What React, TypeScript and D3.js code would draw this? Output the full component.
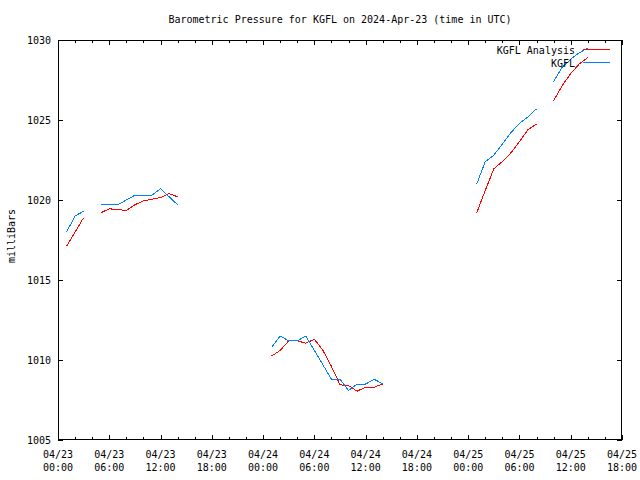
import React from "react";
import * as d3 from "d3";

// hours since 2024-04-23 00:00 UTC
const hours = d3.range(1, 63);

const kgfl: (number | null)[] = [
  1018.0, 1019.0, 1019.3, null,
  1019.7, 1019.7, 1019.7, 1020.0, 1020.3, 1020.3, 1020.3, 1020.7, 1020.2, 1019.7,
  null, null, null, null, null, null, null, null, null, null,
  1010.8, 1011.5, 1011.2, 1011.2, 1011.5, 1010.6, 1009.7, 1008.8, 1008.8, 1008.1, 1008.5, 1008.5, 1008.8, 1008.5,
  null, null, null, null, null, null, null, null, null, null,
  1021.0, 1022.4, 1022.8, 1023.5, 1024.2, 1024.8, 1025.2, 1025.7,
  null,
  1027.4, 1028.3, 1028.8, 1029.2, 1029.5,
];

const kgflAnalysis: (number | null)[] = [
  1017.1, 1018.0, 1018.9, null,
  1019.2, 1019.45, 1019.4, 1019.35, 1019.7, 1019.95, 1020.05, 1020.15, 1020.4, 1020.2,
  null, null, null, null, null, null, null, null, null, null,
  1010.25, 1010.6, 1011.2, 1011.2, 1011.05, 1011.3, 1010.6, 1009.6, 1008.45, 1008.4, 1008.05, 1008.3, 1008.3, 1008.5,
  null, null, null, null, null, null, null, null, null, null,
  1019.2, 1020.6, 1021.95, 1022.4, 1022.95, 1023.65, 1024.4, 1024.75,
  null,
  1026.2, 1027.15, 1027.9, 1028.5, 1028.9,
];

const xTickHours = [0, 6, 12, 18, 24, 30, 36, 42, 48, 54, 60, 66];
const xTickDates = ["04/23", "04/23", "04/23", "04/23", "04/24", "04/24", "04/24", "04/24", "04/25", "04/25", "04/25", "04/25"];
const xTickTimes = ["00:00", "06:00", "12:00", "18:00", "00:00", "06:00", "12:00", "18:00", "00:00", "06:00", "12:00", "18:00"];
const yTicks = [1005, 1010, 1015, 1020, 1025, 1030];

const title = "Barometric Pressure for KGFL on 2024-Apr-23 (time in UTC)";
const yLabel = "milliBars";
const seriesNames = ["KGFL Analysis", "KGFL"];
const seriesColors = ["#ff0000", "#0080ff"];

const W = 640, H = 480;
const L = 58, R = 622, T = 40, B = 440;
const FONT = "'DejaVu Sans Mono', monospace";

export default function App() {
  const x = d3.scaleLinear().domain([0, 66]).range([L, R]);
  const y = d3.scaleLinear().domain([1005, 1030]).range([B, T]);
  const minorHours = d3.range(0, 67, 2).filter((h) => h % 6 !== 0);

  const mkLine = (vals: (number | null)[]) =>
    d3
      .line<number>()
      .defined((_, i) => vals[i] != null)
      .x((h) => x(h))
      .y((_, i) => y(vals[i] as number))(hours) || "";

  const series = [kgflAnalysis, kgfl];

  return (
    <div style={{ position: "absolute", left: 0, top: 0 }}>
      <svg width={W} height={H} style={{ display: "block", background: "#fff" }}>
        <rect x={0} y={0} width={W} height={H} fill="#fff" />
        <text x={(L + R) / 2} y={23} textAnchor="middle" fontFamily={FONT} fontSize={10} fill="#000">
          {title}
        </text>
        {/* y ticks */}
        {yTicks.map((v) => (
          <g key={"y" + v} shapeRendering="crispEdges">
            <line x1={L} x2={L + 5} y1={Math.round(y(v)) + 0.5} y2={Math.round(y(v)) + 0.5} stroke="#000" />
            <line x1={R - 5} x2={R} y1={Math.round(y(v)) + 0.5} y2={Math.round(y(v)) + 0.5} stroke="#000" />
            <text x={51} y={y(v)} dy="0.36em" textAnchor="end" fontFamily={FONT} fontSize={10} fill="#000">
              {v}
            </text>
          </g>
        ))}
        {/* x ticks */}
        {xTickHours.map((h, i) => (
          <g key={"x" + h} shapeRendering="crispEdges">
            <line x1={Math.round(x(h)) + 0.5} x2={Math.round(x(h)) + 0.5} y1={B} y2={B - 5} stroke="#000" />
            <line x1={Math.round(x(h)) + 0.5} x2={Math.round(x(h)) + 0.5} y1={T} y2={T + 5} stroke="#000" />
            <text x={x(h)} y={458} textAnchor="middle" fontFamily={FONT} fontSize={10} fill="#000">
              {xTickDates[i]}
            </text>
            <text x={x(h)} y={471} textAnchor="middle" fontFamily={FONT} fontSize={10} fill="#000">
              {xTickTimes[i]}
            </text>
          </g>
        ))}
        {minorHours.map((h) => (
          <g key={"m" + h} shapeRendering="crispEdges">
            <line x1={Math.round(x(h)) + 0.5} x2={Math.round(x(h)) + 0.5} y1={B} y2={B - 3} stroke="#000" />
            <line x1={Math.round(x(h)) + 0.5} x2={Math.round(x(h)) + 0.5} y1={T} y2={T + 3} stroke="#000" />
          </g>
        ))}
        <text
          transform={`translate(15,${(T + B) / 2 - 4}) rotate(-90)`}
          textAnchor="middle"
          fontFamily={FONT}
          fontSize={10}
          fill="#000"
        >
          {yLabel}
        </text>
        {/* data */}
        {series.map((vals, i) => (
          <path key={"s" + i} d={mkLine(vals)} fill="none" stroke={seriesColors[i]} strokeWidth={1} shapeRendering="crispEdges" />
        ))}
        {/* legend */}
        {seriesNames.map((name, i) => (
          <g key={"l" + i}>
            <text x={575} y={50 + i * 13} dy="0.36em" textAnchor="end" fontFamily={FONT} fontSize={10} fill="#000">
              {name}
            </text>
            <line x1={583} x2={610} y1={49.5 + i * 13} y2={49.5 + i * 13} stroke={seriesColors[i]} shapeRendering="crispEdges" />
          </g>
        ))}
        {/* border */}
        <rect x={L + 0.5} y={T + 0.5} width={R - L - 1} height={B - T - 1} fill="none" stroke="#000" shapeRendering="crispEdges" />
      </svg>
    </div>
  );
}
